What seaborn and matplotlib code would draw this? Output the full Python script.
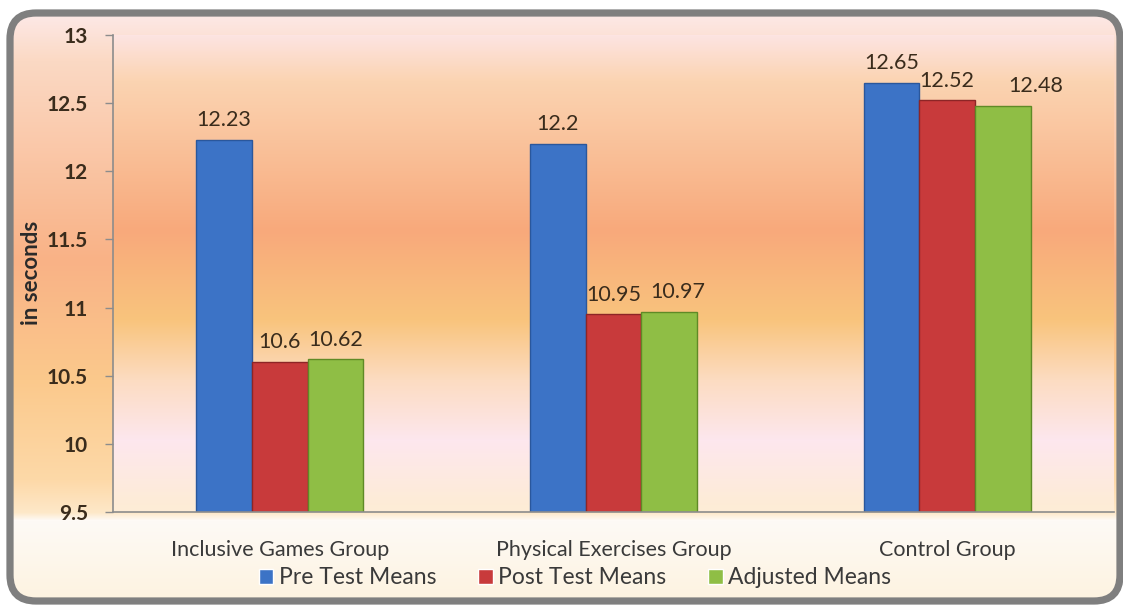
import numpy as np
import pandas as pd
import matplotlib
matplotlib.use("Agg")
import matplotlib.pyplot as plt
import matplotlib.colors as mcolors
from matplotlib.patches import FancyBboxPatch
import seaborn as sns

# ---- data ----
groups = ["Inclusive Games Group", "Physical Exercises Group", "Control Group"]
series = ["Pre Test Means", "Post Test Means", "Adjusted Means"]
pre_test = [12.23, 12.2, 12.65]
post_test = [10.6, 10.95, 12.52]
adjusted = [10.62, 10.97, 12.48]
y_ticks = [9.5, 10, 10.5, 11, 11.5, 12, 12.5, 13]
y_label = "in seconds"

df = pd.DataFrame({
    "group": groups * 3,
    "series": [series[0]] * 3 + [series[1]] * 3 + [series[2]] * 3,
    "value": pre_test + post_test + adjusted,
})

sns.set_theme(style="white")
plt.rcParams["font.family"] = ["Lato", "DejaVu Sans"]

W, H = 1123, 609
fig = plt.figure(figsize=(W / 100, H / 100), dpi=100)
fig.patch.set_facecolor("white")

# ---- background gradients ----
def grad(stops, n):
    ys = np.arange(n)
    pos = [s[0] for s in stops]
    cols = np.array([mcolors.to_rgb(s[1]) for s in stops])
    return np.stack([np.interp(ys, pos, cols[:, k]) for k in range(3)], axis=1)

plot_l, plot_r, plot_t, plot_b = 113, 1114, 35, 512
chart_stops = [(10, "#fdeaea"), (60, "#fbd9c4"), (260, "#f9b286"), (380, "#fbc98c"),
               (480, "#fdd9a8"), (512, "#fde8c8"), (520, "#fefaf6"), (600, "#fdf3e0")]
plot_stops = [(35, "#fde4e2"), (80, "#fbd4b2"), (230, "#f8a97b"), (320, "#f9c47d"),
              (380, "#fcdcc2"), (440, "#fde7ee"), (505, "#fdecd6"), (512, "#fdecd6"),
              (520, "#fefaf6"), (600, "#fdf3e0")]
cg = grad(chart_stops, H)
pg = grad(plot_stops, H)
img = np.repeat(cg[:, None, :], W, axis=1)
img[plot_t:plot_b, plot_l:plot_r, :] = pg[plot_t:plot_b, None, :]

bg = fig.add_axes([0, 0, 1, 1], zorder=-10)
bg.set_xlim(0, W)
bg.set_ylim(H, 0)
bg.axis("off")
im = bg.imshow(img, extent=(0, W, H, 0), aspect="auto", interpolation="bilinear")
frame = FancyBboxPatch((10, 13), 1110, 588, boxstyle="round,pad=0,rounding_size=26",
                       facecolor="none", edgecolor="#7f7f7f", linewidth=5.2)
bg.add_patch(frame)
clip = FancyBboxPatch((10, 13), 1110, 588, boxstyle="round,pad=0,rounding_size=26",
                      facecolor="none", edgecolor="none", transform=bg.transData)
im.set_clip_path(clip)

# ---- main axes ----
ax = fig.add_axes([plot_l / W, 1 - plot_b / H, (plot_r - plot_l) / W, (plot_b - plot_t) / H])
ax.patch.set_alpha(0)

palette = ["#3c73c6", "#c83a3b", "#8fbe45"]
edges = ["#2a579c", "#8d2526", "#5f8a26"]
sns.barplot(data=df, x="group", y="value", hue="series", hue_order=series,
            order=groups, palette=palette, saturation=1, width=0.5, ax=ax)

all_labels = []
for cont, ec in zip(ax.containers, edges):
    for bar in cont:
        bar.set_edgecolor(ec)
        bar.set_linewidth(1.0)
    texts = ax.bar_label(cont, labels=[f"{v:g}" for v in cont.datavalues], padding=7,
                         fontsize=15.5, color="#3a2c1c")
    all_labels.append(texts)

# nudge the crowded labels sideways as in the original chart
all_labels[2][2].xyann = (24, 7)
all_labels[2][1].xyann = (6, 7)

ax.set_ylim(9.5, 13)
ax.set_xlim(-0.5, 2.5)
ax.set_yticks(y_ticks)
ax.set_yticklabels([f"{t:g}" for t in y_ticks], fontsize=15, fontweight="bold", color="#3a2c1c")
ax.tick_params(axis="y", left=True, length=6, width=1, color="#8c8c8c", pad=12, direction="out")
ax.tick_params(axis="x", bottom=False, pad=14, labelsize=15.5, labelcolor="#3a3a3a")
ax.set_xlabel("")
ax.set_ylabel("")
for s in ["top", "right"]:
    ax.spines[s].set_visible(False)
for s in ["left", "bottom"]:
    ax.spines[s].set_color("#8c8c8c")
    ax.spines[s].set_linewidth(1.2)

fig.text(32 / W, 1 - 273 / H, y_label, rotation=90, ha="center", va="center",
         fontsize=16, fontweight="bold", color="#2a2a2a")

handles, labels = ax.get_legend_handles_labels()
ax.get_legend().remove()
fig.legend(handles, labels, loc="center", bbox_to_anchor=(575 / W, 1 - 578 / H), ncol=3,
           frameon=False, fontsize=16.5, handlelength=0.65, handleheight=0.65,
           handletextpad=0.25, columnspacing=1.8, labelcolor="#3a3a3a",
           borderpad=0, borderaxespad=0)

fig.savefig("out.png", dpi=100)
